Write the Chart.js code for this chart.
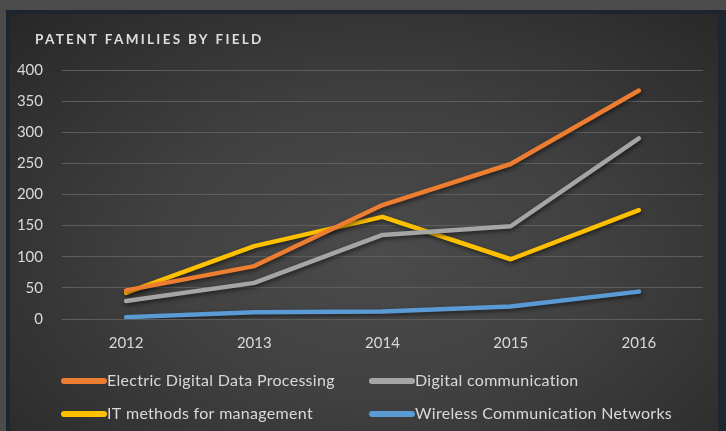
<!DOCTYPE html>
<html><head><meta charset="utf-8">
<script src="https://cdn.jsdelivr.net/npm/chart.js@4/dist/chart.umd.min.js"></script>
<style>
html,body{margin:0;padding:0;background:#4b4b4b;width:726px;height:431px;overflow:hidden;}
#frame{position:absolute;left:6px;top:10px;width:720px;height:440px;box-sizing:border-box;
 border-top:4px solid #1d252e;border-left:4px solid #1d252e;border-right:8px solid #1d252e;
 background:radial-gradient(ellipse 75% 80% at 52% 55%, #4b4b4b 0%, #414141 40%, #2f2f2f 80%, #262626 100%);}
#c{position:absolute;left:0;top:0;}
</style></head>
<body>
<div id="frame"></div>
<canvas id="c" width="726" height="431"></canvas>
<script>
const titleText = 'PATENT FAMILIES BY FIELD';
const years = ['2012', '2013', '2014', '2015', '2016'];
const yTickValues = [0, 50, 100, 150, 200, 250, 300, 350, 400];
const seriesNames = ['Electric Digital Data Processing', 'Digital communication', 'IT methods for management', 'Wireless Communication Networks'];
const electricDigital = [46, 85, 183, 249, 367];
const digitalComm = [29, 58, 135, 149, 290];
const itMethods = [42, 117, 164, 96, 175];
const wireless = [3, 11, 12, 20, 44];
const seriesColors = ['#ed7d31', '#a5a5a5', '#ffc000', '#5b9bd5'];

const FONT = 'Lato, "Open Sans", sans-serif';
const TXT = '#d9d9d9';

const bgPlugin = {
  id: 'shadowAndExtras',
  beforeDatasetsDraw(chart) {
    const ctx = chart.ctx;
    ctx.save();
    ctx.shadowColor = 'rgba(0,0,0,0.55)';
    ctx.shadowBlur = 4;
    ctx.shadowOffsetX = 1;
    ctx.shadowOffsetY = 2;
  },
  afterDatasetsDraw(chart) {
    chart.ctx.restore();
  },
  afterDraw(chart) {
    const ctx = chart.ctx;
    // title
    ctx.save();
    ctx.font = 'bold 13.5px ' + FONT;
    ctx.fillStyle = '#dedede';
    ctx.textBaseline = 'alphabetic';
    ctx.textAlign = 'left';
    ctx.letterSpacing = '2.3px';
    ctx.fillText(titleText, 35, 44);
    ctx.restore();
    // legend
    ctx.save();
    const cols = [62, 370];
    const rows = [381, 414];
    chart.data.datasets.forEach((ds, i) => {
      const x = cols[i % 2];
      const y = rows[Math.floor(i / 2)];
      ctx.strokeStyle = ds.borderColor;
      ctx.lineWidth = 6;
      ctx.lineCap = 'round';
      ctx.beginPath();
      ctx.moveTo(x + 2, y);
      ctx.lineTo(x + 42, y);
      ctx.stroke();
      ctx.font = '16px ' + FONT;
      ctx.fillStyle = TXT;
      ctx.textBaseline = 'middle';
      ctx.textAlign = 'left';
      ctx.letterSpacing = '0.3px';
      ctx.fillText(ds.label, x + 45, y);
    });
    ctx.restore();
  }
};

const allData = [electricDigital, digitalComm, itMethods, wireless];

new Chart(document.getElementById('c'), {
  type: 'line',
  data: {
    labels: years,
    datasets: allData.map((d, i) => ({
      label: seriesNames[i],
      data: d,
      borderColor: seriesColors[i],
      backgroundColor: seriesColors[i],
      borderWidth: 4.5,
      borderCapStyle: 'round',
      borderJoinStyle: 'round',
      pointRadius: 0,
      tension: 0,
      fill: false
    }))
  },
  options: {
    responsive: false,
    animation: false,
    layout: { padding: { left: 11, top: 70, right: 23, bottom: 0 } },
    plugins: { legend: { display: false }, title: { display: false }, tooltip: { enabled: false } },
    scales: {
      x: {
        offset: true,
        grid: { display: false, drawTicks: false },
        border: { display: false },
        ticks: { color: TXT, font: { family: FONT, size: 15 }, padding: 15 },
        afterFit(s) { s.height = 112; }
      },
      y: {
        min: 0, max: 400,
        afterBuildTicks(s) { s.ticks = yTickValues.map(v => ({ value: v })); },
        grid: { color: '#5d5d5d', lineWidth: 1, drawTicks: false },
        border: { display: false },
        ticks: { color: TXT, font: { family: FONT, size: 15 }, padding: 19 },
        afterFit(s) { s.width = 51; }
      }
    }
  },
  plugins: [bgPlugin]
});
</script>
</body></html>
